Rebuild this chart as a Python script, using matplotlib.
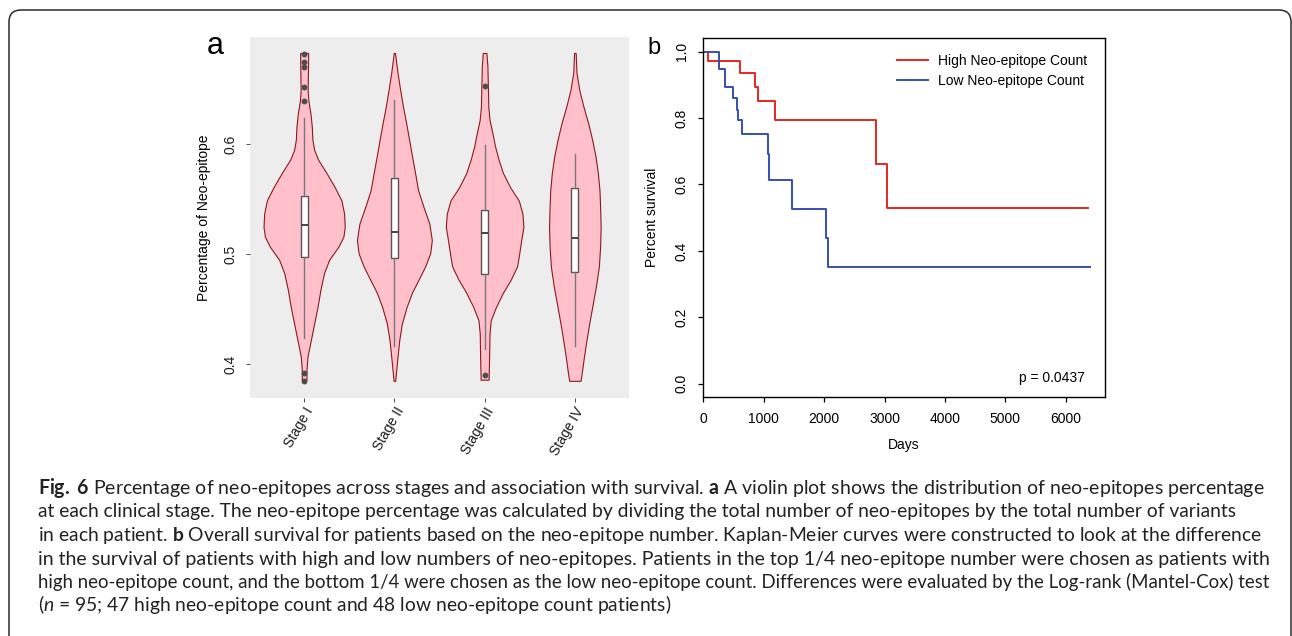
"""Neo-epitope percentage by stage (violin) and KM survival by neo-epitope count."""
import matplotlib
matplotlib.use("Agg")
import matplotlib.pyplot as plt
from matplotlib.patches import FancyBboxPatch

CAP_FONT = "Lato"
plt.rcParams["font.family"] = ["Liberation Sans", "DejaVu Sans"]
plt.rcParams["mathtext.fontset"] = "custom"
plt.rcParams["mathtext.rm"] = CAP_FONT
plt.rcParams["mathtext.bf"] = CAP_FONT + ":bold"
plt.rcParams["mathtext.it"] = CAP_FONT + ":italic"

# -----------------------------------------------------------------------------
# Data
# -----------------------------------------------------------------------------
stages = ["Stage I", "Stage II", "Stage III", "Stage IV"]

# violin outlines: level (fraction) and half width (category units)
vio_y_1 = [0.683, 0.677, 0.665, 0.649, 0.639, 0.628, 0.616, 0.604, 0.595, 0.586,
           0.574, 0.561, 0.549, 0.537, 0.525, 0.516, 0.507, 0.495, 0.483, 0.468,
           0.452, 0.437, 0.422, 0.407, 0.395, 0.386]
vio_w_1 = [0.044, 0.044, 0.042, 0.039, 0.048, 0.070, 0.085, 0.092, 0.111, 0.155,
           0.247, 0.339, 0.413, 0.443, 0.450, 0.435, 0.380, 0.277, 0.221, 0.181,
           0.148, 0.111, 0.074, 0.037, 0.026, 0.026]
vio_y_2 = [0.683, 0.665, 0.649, 0.634, 0.619, 0.604, 0.589, 0.574, 0.558, 0.543,
           0.528, 0.513, 0.501, 0.489, 0.477, 0.465, 0.452, 0.437, 0.422, 0.407,
           0.392, 0.385]
vio_w_2 = [0.007, 0.035, 0.065, 0.096, 0.131, 0.164, 0.196, 0.229, 0.264, 0.323,
           0.387, 0.415, 0.397, 0.341, 0.268, 0.194, 0.135, 0.083, 0.054, 0.035,
           0.017, 0.009]
vio_y_3 = [0.683, 0.671, 0.649, 0.634, 0.622, 0.610, 0.598, 0.586, 0.574, 0.561,
           0.549, 0.537, 0.525, 0.513, 0.501, 0.489, 0.477, 0.465, 0.452, 0.440,
           0.428, 0.407, 0.386]
vio_w_3 = [0.020, 0.031, 0.037, 0.041, 0.055, 0.087, 0.116, 0.155, 0.203, 0.282,
           0.378, 0.419, 0.430, 0.406, 0.384, 0.360, 0.290, 0.203, 0.125, 0.068,
           0.054, 0.050, 0.044]
vio_y_4 = [0.683, 0.665, 0.649, 0.634, 0.619, 0.604, 0.589, 0.574, 0.558, 0.543,
           0.525, 0.507, 0.489, 0.471, 0.452, 0.437, 0.422, 0.407, 0.392, 0.385]
vio_w_4 = [0.009, 0.018, 0.050, 0.096, 0.148, 0.192, 0.229, 0.255, 0.273, 0.280,
           0.286, 0.280, 0.266, 0.234, 0.192, 0.159, 0.129, 0.101, 0.076, 0.063]

# box plot summaries per stage
box_q1 = [0.498, 0.497, 0.482, 0.484]
box_med = [0.527, 0.520, 0.519, 0.515]
box_q3 = [0.553, 0.569, 0.540, 0.560]
box_lo = [0.424, 0.417, 0.414, 0.417]
box_hi = [0.624, 0.640, 0.599, 0.591]
outliers = [[0.682, 0.675, 0.670, 0.652, 0.639, 0.392, 0.385],
            [],
            [0.653, 0.390],
            []]

# Kaplan-Meier curves
km_high_days = [0, 83, 607, 861, 911, 1187, 2858, 3041, 6374]
km_high_surv = [1.0, 0.973, 0.935, 0.893, 0.851, 0.794, 0.662, 0.528, 0.528]
km_low_days = [0, 260, 359, 497, 553, 569, 646, 1066, 1088, 1463, 2031, 2060, 6402]
km_low_surv = [1.0, 0.948, 0.892, 0.860, 0.825, 0.794, 0.753, 0.691, 0.614,
               0.526, 0.438, 0.351, 0.351]
p_value = "p = 0.0437"

caption = [
    r"$\mathbf{Fig.}$ $\mathbf{6}$ Percentage of neo-epitopes across stages and association with survival. "
    r"$\mathbf{a}$ A violin plot shows the distribution of neo-epitopes percentage",
    "at each clinical stage. The neo-epitope percentage was calculated by dividing the total "
    "number of neo-epitopes by the total number of variants",
    r"in each patient. $\mathbf{b}$ Overall survival for patients based on the neo-epitope number. "
    "Kaplan-Meier curves were constructed to look at the difference",
    "in the survival of patients with high and low numbers of neo-epitopes. Patients in the top "
    "1/4 neo-epitope number were chosen as patients with",
    "high neo-epitope count, and the bottom 1/4 were chosen as the low neo-epitope count. "
    "Differences were evaluated by the Log-rank (Mantel-Cox) test",
    r"($\mathit{n}$ = 95; 47 high neo-epitope count and 48 low neo-epitope count patients)",
]
caption_ends = [1264, 1243, 1264, 1268, 1268, 657]  # right end of each line in the reference

W, H = 1292, 636
fig = plt.figure(figsize=(W / 100, H / 100), dpi=100)

# outer rounded frame
frame = FancyBboxPatch((0.09, -0.3), 12.82, 6.56,
                       boxstyle="round,pad=0,rounding_size=0.12",
                       transform=fig.dpi_scale_trans, facecolor="none",
                       edgecolor="#2b2b2b", lw=1.1)
fig.patches.append(frame)

# -----------------------------------------------------------------------------
# a: violin plot
# -----------------------------------------------------------------------------
ax = fig.add_axes([250 / W, (H - 398) / H, 379 / W, 361 / H])
ax.set_facecolor("#EDEDED")
for s in ax.spines.values():
    s.set_visible(False)

vio_y = [vio_y_1, vio_y_2, vio_y_3, vio_y_4]
vio_w = [vio_w_1, vio_w_2, vio_w_3, vio_w_4]
for i, (ys, ws) in enumerate(zip(vio_y, vio_w)):
    pos = i + 1
    ax.fill_betweenx(ys, [pos - w for w in ws], [pos + w for w in ws],
                     facecolor="#FFC0CB", edgecolor="#8B1A1A", lw=0.8, zorder=2)

stats = []
for i in range(4):
    stats.append(dict(q1=box_q1[i], med=box_med[i], q3=box_q3[i],
                      whislo=box_lo[i], whishi=box_hi[i], fliers=outliers[i]))
ax.bxp(stats, positions=[1, 2, 3, 4], widths=0.078, patch_artist=True,
       showcaps=False, zorder=3,
       boxprops=dict(facecolor="white", edgecolor="#555555", lw=1.0),
       medianprops=dict(color="#444444", lw=1.4),
       whiskerprops=dict(color="#777777", lw=1.0),
       flierprops=dict(marker="o", markersize=3.2, markerfacecolor="#4D4D4D",
                       markeredgecolor="#4D4D4D"))

ax.set_xlim(0.4, 4.6)
ax.set_ylim(0.3694, 0.6975)
ax.set_yticks([0.4, 0.5, 0.6])
ax.set_yticklabels(["0.4", "0.5", "0.6"], rotation=90, va="center", fontsize=10)
ax.set_xticks([1, 2, 3, 4])
ax.set_xticklabels(stages, rotation=60, ha="right", va="top",
                   rotation_mode="anchor", fontsize=10)
ax.tick_params(axis="both", length=2.75, width=0.6, color="#333333", labelcolor="#1a1a1a")
ax.tick_params(axis="y", pad=6.5)
ax.tick_params(axis="x", pad=2)
ax.set_ylabel("Percentage of Neo-epitope", fontsize=10)
ax.yaxis.set_label_coords((211 - 250) / 379, 0.5)
fig.text(207 / W, (H - 54) / H, "a", fontsize=22, ha="left", va="baseline")

# -----------------------------------------------------------------------------
# b: Kaplan-Meier
# -----------------------------------------------------------------------------
bx = fig.add_axes([703.3 / W, (H - 397) / H, 401.7 / W, 359 / H])
h_line, = bx.step(km_high_days, km_high_surv, where="post", color="#E5281E", lw=1.4,
                  label="High Neo-epitope Count")
l_line, = bx.step(km_low_days, km_low_surv, where="post", color="#3450B0", lw=1.4,
                  label="Low Neo-epitope Count")
bx.set_xlim(0, 6650)
bx.set_ylim(-0.040, 1.041)
bx.set_xticks([0, 1000, 2000, 3000, 4000, 5000, 6000])
bx.set_yticks([0.0, 0.2, 0.4, 0.6, 0.8, 1.0])
bx.set_yticklabels(["0.0", "0.2", "0.4", "0.6", "0.8", "1.0"], rotation=90, va="center")
bx.tick_params(axis="both", length=3.6, width=0.9, labelsize=10)
bx.tick_params(axis="y", pad=7)
bx.tick_params(axis="x", pad=7)
for s in bx.spines.values():
    s.set_linewidth(1.0)
bx.set_ylabel("Percent survival", fontsize=10)
bx.yaxis.set_label_coords((659 - 703.3) / 401.7, 0.5)
bx.set_xlabel("Days", fontsize=10)
bx.xaxis.set_label_coords(0.5, (397 - 438) / 359)
bx.legend(handles=[h_line, l_line], loc="upper left", bbox_to_anchor=(0.4815, 0.955),
          frameon=False, fontsize=10, handlelength=2.27, handletextpad=0.72,
          labelspacing=0.4, borderpad=0, borderaxespad=0)
bx.text(6320, 0.017, p_value, ha="right", va="center", fontsize=10)
fig.text(647 / W, (H - 54) / H, "b", fontsize=17, ha="left", va="baseline")

# -----------------------------------------------------------------------------
# caption: each line sized to end where the reference line ends
# -----------------------------------------------------------------------------
x0 = 38
texts = []
for k, line in enumerate(caption):
    t = fig.text(x0 / W, (H - (494 + 23.5 * k)) / H, line, family=CAP_FONT,
                 fontsize=12, color="#222222", ha="left", va="baseline")
    texts.append(t)
r = fig.canvas.get_renderer()
for _ in range(3):
    fig.canvas.draw()
    for t, end in zip(texts, caption_ends):
        w = t.get_window_extent(r).width
        t.set_fontsize(t.get_fontsize() * (end - x0) / w)
# last line is short: give it the body size
sizes = [t.get_fontsize() for t in texts[:5]]
texts[5].set_fontsize(sum(sizes) / len(sizes))

fig.savefig("out.png", dpi=100)
